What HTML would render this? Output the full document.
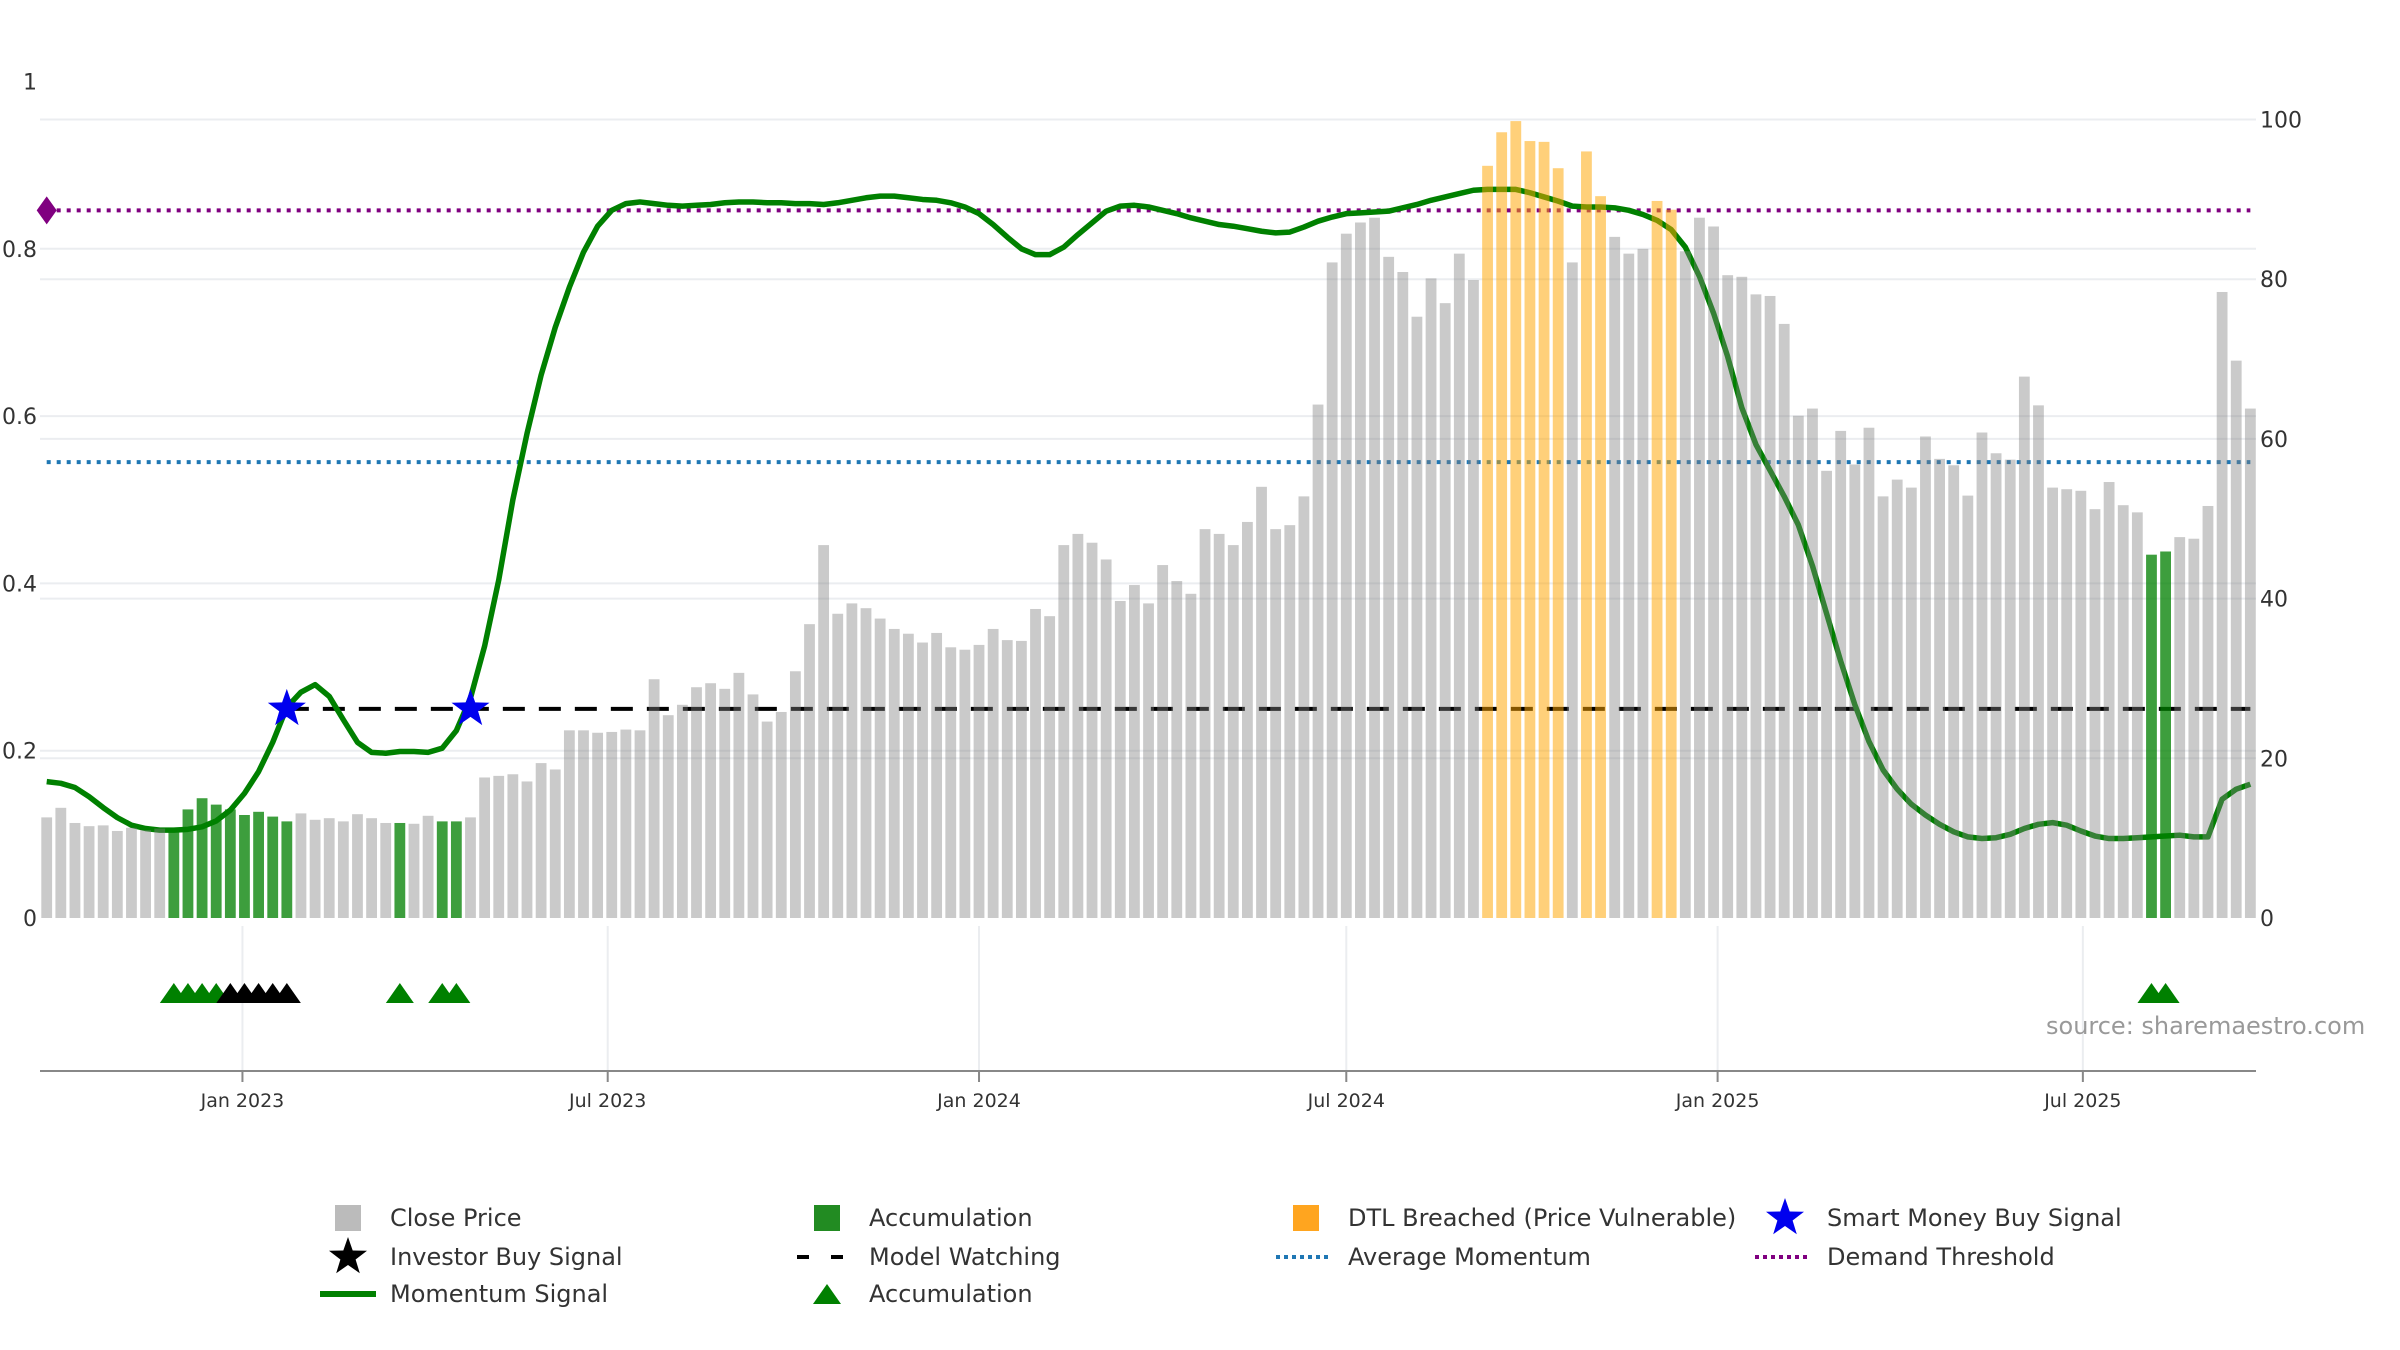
<!DOCTYPE html>
<html><head><meta charset="utf-8"><style>
html,body{margin:0;padding:0;background:#fff;}
svg{display:block;font-family:"DejaVu Sans","Liberation Sans",sans-serif;}
</style></head><body>
<svg id="chart" width="2400" height="1350" viewBox="0 0 2400 1350" xmlns="http://www.w3.org/2000/svg">
<g id="grid"></g>
<g id="lines"></g>
<g id="bars"></g>
<g id="marks"></g>
<g id="axes"></g>
<text x="2046" y="1034" font-size="24" fill="#999">source: sharemaestro.com</text>
<g id="legend"></g>
</svg>
<script>
const closePrice = [12.6,13.8,11.9,11.5,11.6,10.9,11.3,11.0,11.2,11.3,13.6,15.0,14.2,13.6,12.9,13.3,12.7,12.1,13.1,12.3,12.5,12.1,13.0,12.5,11.9,11.9,11.8,12.8,12.1,12.1,12.6,17.6,17.8,18.0,17.1,19.4,18.6,23.5,23.5,23.2,23.3,23.6,23.5,29.9,25.4,26.7,28.9,29.4,28.7,30.7,28.0,24.6,25.8,30.9,36.8,46.7,38.1,39.4,38.8,37.5,36.2,35.6,34.5,35.7,33.9,33.6,34.2,36.2,34.8,34.7,38.7,37.8,46.7,48.1,47.0,44.9,39.7,41.7,39.4,44.2,42.2,40.6,
48.7,48.1,46.7,49.6,54.0,48.7,49.2,52.8,64.3,82.1,85.7,87.1,87.7,82.8,80.9,75.3,80.1,77.0,83.2,79.9,94.2,98.4,99.8,97.3,97.2,93.9,82.1,96.0,90.4,85.3,83.2,83.8,89.8,88.7,83.5,87.7,86.6,80.5,80.3,78.1,77.9,74.4,62.9,63.8,56.0,61.0,56.8,61.4,52.8,54.9,53.9,60.3,57.5,56.7,52.9,60.8,58.2,57.4,67.8,64.2,53.9,53.7,53.5,51.2,54.6,51.7,50.8,45.5,45.9,47.7,47.5,51.6,78.4,69.8,63.8];
const momentum = [0.163,0.161,0.156,0.145,0.132,0.12,0.111,0.107,0.105,0.105,0.106,0.109,0.116,0.129,0.149,0.175,0.21,0.252,0.27,0.279,0.265,0.237,0.21,0.198,0.197,0.199,0.199,0.198,0.203,0.224,0.263,0.325,0.404,0.5,0.579,0.649,0.706,0.754,0.796,0.827,0.846,0.854,0.856,0.854,0.852,0.851,0.852,0.853,0.855,0.856,0.856,0.855,0.855,0.854,0.854,0.853,0.855,0.858,0.861,0.863,0.863,0.861,0.859,0.858,0.855,0.85,0.842,0.829,0.814,0.8,0.793,0.793,0.802,0.817,0.831,0.845,0.851,0.852,0.85,0.846,0.842,0.837,
0.833,0.829,0.827,0.824,0.821,0.819,0.82,0.826,0.833,0.838,0.842,0.843,0.844,0.845,0.849,0.853,0.858,0.862,0.866,0.87,0.871,0.871,0.871,0.867,0.862,0.857,0.851,0.85,0.85,0.849,0.846,0.841,0.834,0.823,0.802,0.767,0.723,0.671,0.61,0.566,0.535,0.504,0.47,0.421,0.364,0.307,0.255,0.211,0.177,0.154,0.136,0.123,0.112,0.103,0.097,0.095,0.096,0.1,0.107,0.112,0.114,0.111,0.104,0.098,0.095,0.095,0.096,0.097,0.098,0.099,0.097,0.097,0.142,0.154,0.16];
const accumBars = [9,10,11,12,13,14,15,16,17,25,28,29,149,150];
const dtlBars = [102,103,104,105,106,107,109,110,114,115];
const accumTriangles = [9,10,11,12,25,28,29,149,150];
const investorSignals = [13,14,15,16,17];
const smartMoneySignals = [17,30];
const modelWatchStart = 17;
const modelWatchLevel = 0.25;
const avgMomentum = 0.545;
const demandThreshold = 0.846;
const leftTicks = [0,0.2,0.4,0.6,0.8,1];
const leftTickLabels = ["0","0.2","0.4","0.6","0.8","1"];
const rightTicks = [0,20,40,60,80,100];
const dateTickDays = [97,278,462,644,828,1009];
const dateTickLabels = ["Jan 2023","Jul 2023","Jan 2024","Jul 2024","Jan 2025","Jul 2025"];

const NS="http://www.w3.org/2000/svg";
const X0=46.7, PXDAY=2.018, Y0=918, LSPAN=836.5, RSPAN=7.985;
const xDay=d=>X0+d*PXDAY;
const xi=i=>xDay(i*7);
const yL=v=>Y0-v*LSPAN;
const yR=v=>Y0-v*RSPAN;
const XR=2256, XL=40, AXY=1071;
function mk(tag,attrs,parent){const e=document.createElementNS(NS,tag);for(const k in attrs)e.setAttribute(k,attrs[k]);parent.appendChild(e);return e;}
const grid=document.getElementById('grid'),lines=document.getElementById('lines'),bars=document.getElementById('bars'),marks=document.getElementById('marks'),axes=document.getElementById('axes'),legend=document.getElementById('legend');

leftTicks.forEach((v,k)=>{ if(v>0&&v<1){const g=mk('line',{x1:XL,x2:XR,y1:yL(v),y2:yL(v),stroke:'#ebedf0','stroke-width':2},grid);

}
 const t=mk('text',{x:37,y:yL(v)+8,'text-anchor':'end','font-size':22,fill:'#333'},axes);t.textContent=leftTickLabels[k];
 
 });
rightTicks.forEach(v=>{ if(v>0){const g=mk('line',{x1:XL,x2:XR,y1:yR(v),y2:yR(v),stroke:'#ebedf0','stroke-width':2},grid);

}
 const t=mk('text',{x:2260,y:yR(v)+8,'font-size':22,fill:'#333'},axes);t.textContent=String(v);
 
 });
dateTickDays.forEach((d,k)=>{const x=xDay(d);
 const g=mk('line',{x1:x,x2:x,y1:926,y2:AXY,stroke:'#ebedf0','stroke-width':2},grid);
 
 
 const tk=mk('line',{x1:x,x2:x,y1:AXY,y2:AXY+11,stroke:'#888','stroke-width':2},axes);
 
 
 const t=mk('text',{x:x,y:1107,'text-anchor':'middle','font-size':19,fill:'#333'},axes);t.textContent=dateTickLabels[k];
 
 });
const ax=mk('line',{x1:XL,x2:XR,y1:AXY,y2:AXY,stroke:'#888','stroke-width':2},axes);



const lastX=xi(closePrice.length-1);
const dl=mk('line',{x1:xi(0),x2:lastX,y1:yL(demandThreshold),y2:yL(demandThreshold),stroke:'#800080','stroke-width':4,'stroke-dasharray':'4,6'},lines);


const al=mk('line',{x1:xi(0),x2:lastX,y1:yL(avgMomentum),y2:yL(avgMomentum),stroke:'#1f77b4','stroke-width':4,'stroke-dasharray':'4,6'},lines);


const mw=mk('line',{x1:xi(modelWatchStart),x2:lastX,y1:yL(modelWatchLevel),y2:yL(modelWatchLevel),stroke:'#000','stroke-width':4,'stroke-dasharray':'22,14'},lines);


const ml=mk('polyline',{points:momentum.map((v,i)=>xi(i)+','+yL(v)).join(' '),fill:'none',stroke:'#008000','stroke-width':5.5,'stroke-linejoin':'round'},lines);


const dia=mk('path',{d:`M${xi(0)-10},${yL(demandThreshold)} l10,-14 l10,14 l-10,14 z`,fill:'#800080'},lines);



const BW=10.8;
closePrice.forEach((v,i)=>{let fill='rgba(128,128,128,0.42)',name='close-price-bar';
 if(accumBars.includes(i)){fill='rgba(0,128,0,0.76)';name='accumulation-bar';}
 else if(dtlBars.includes(i)){fill='rgba(255,165,0,0.52)';name='dtl-breached-bar';}
 const r=mk('rect',{x:xi(i)-BW/2,y:yR(v),width:BW,height:Y0-yR(v),fill:fill},bars);
 
 });

function star(cx,cy,R,fill){const p=[];for(let k=0;k<10;k++){const rr=k%2?R*0.4:R;const a=-Math.PI/2+k*Math.PI/5;p.push((cx+rr*Math.cos(a)).toFixed(1)+','+(cy+rr*Math.sin(a)).toFixed(1));}return mk('polygon',{points:p.join(' '),fill:fill},marks);}
function tri(cx,cy,fill,parent){return mk('path',{d:`M${cx-14},${cy+10} L${cx},${cy-10} L${cx+14},${cy+10} Z`,fill:fill},parent||marks);}
accumTriangles.forEach(i=>{const t=tri(xi(i),993,'#008000');
 
 });
investorSignals.forEach(i=>{const t=tri(xi(i),993,'#000');
 
 });
smartMoneySignals.forEach(i=>{const s=star(xi(i),yL(modelWatchLevel),20,'#0000ee');
 
 });

const cols=[348,827,1306,1785], rows=[1218,1257,1294];
function lg(c,r,txt,draw,name){const g=mk('g',{},legend);
 
 
 draw(g,cols[c],rows[r]);const t=mk('text',{x:cols[c]+42,y:rows[r]+8,'font-size':24,fill:'#333'},g);t.textContent=txt;}
lg(0,0,'Close Price',(g,x,y)=>mk('rect',{x:x-13,y:y-13,width:26,height:26,fill:'#bbb'},g),'legend-close-price');
lg(1,0,'Accumulation',(g,x,y)=>mk('rect',{x:x-13,y:y-13,width:26,height:26,fill:'#228b22'},g),'legend-accumulation-bar');
lg(2,0,'DTL Breached (Price Vulnerable)',(g,x,y)=>mk('rect',{x:x-13,y:y-13,width:26,height:26,fill:'#ffa51f'},g),'legend-dtl-breached');
lg(3,0,'Smart Money Buy Signal',(g,x,y)=>{const s=star(x,y,20,'#0000ee');g.appendChild(s);},'legend-smart-money');
lg(0,1,'Investor Buy Signal',(g,x,y)=>{const s=star(x,y,20,'#000');g.appendChild(s);},'legend-investor-buy');
lg(1,1,'Model Watching',(g,x,y)=>mk('line',{x1:x-30,x2:x+26,y1:y,y2:y,stroke:'#000','stroke-width':4,'stroke-dasharray':'12,22'},g),'legend-model-watching');
lg(2,1,'Average Momentum',(g,x,y)=>mk('line',{x1:x-30,x2:x+26,y1:y,y2:y,stroke:'#1f77b4','stroke-width':4,'stroke-dasharray':'4,4'},g),'legend-average-momentum');
lg(3,1,'Demand Threshold',(g,x,y)=>mk('line',{x1:x-30,x2:x+26,y1:y,y2:y,stroke:'#800080','stroke-width':4,'stroke-dasharray':'4,4'},g),'legend-demand-threshold');
lg(0,2,'Momentum Signal',(g,x,y)=>mk('line',{x1:x-28,x2:x+28,y1:y,y2:y,stroke:'#008000','stroke-width':6},g),'legend-momentum-signal');
lg(1,2,'Accumulation',(g,x,y)=>tri(x,y,'#008000',g),'legend-accumulation-triangle');
</script>
</body></html>
